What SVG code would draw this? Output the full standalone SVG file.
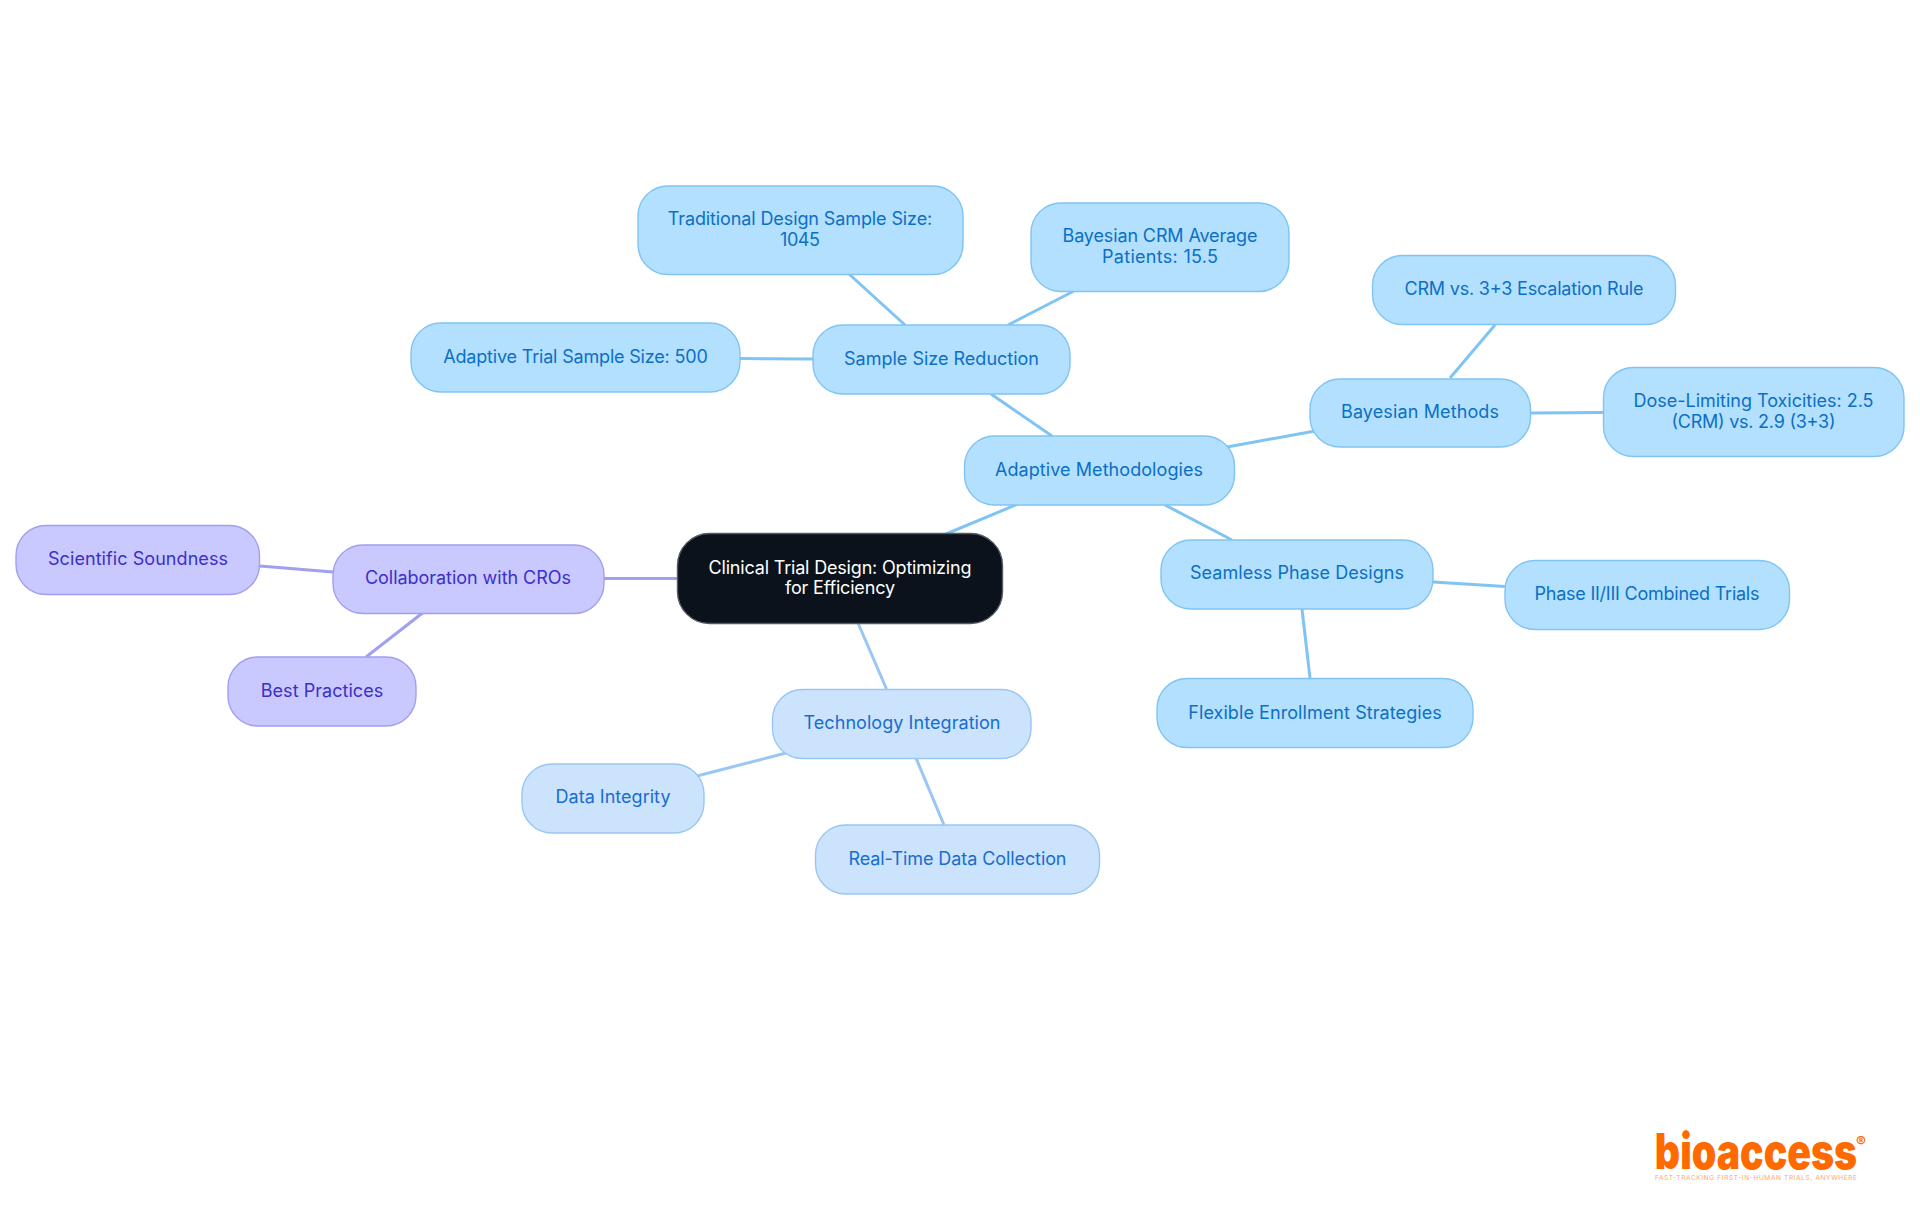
<svg xmlns="http://www.w3.org/2000/svg" width="1920" height="1215" viewBox="0 0 1920 1215">
<style>
text{font-family:Inter,"Noto Sans",sans-serif;font-size:18px;text-anchor:middle}
.n rect{stroke-width:1.4}
.a rect{fill:#b3e0fe;stroke:#7fc4f3}.a text{fill:#0b6fc6}
.t rect{fill:#cce3fd;stroke:#9ac6f4}.t text{fill:#176dd0}
.c rect{fill:#c9c9ff;stroke:#a09ff2}.c text{fill:#3c2fca}
#connectors line{stroke-width:3;fill:none}
.ca{stroke:#7fc4f3}.ct{stroke:#9ac6f4}.cc{stroke:#a09ff2}
</style>
<rect width="1920" height="1215" fill="#fff"/>
<g id="connectors">
<line class="ca" x1="946" y1="534" x2="1018" y2="504"/>
<line class="ca" x1="1052" y1="436" x2="991" y2="394"/>
<line class="ca" x1="905" y1="325" x2="849" y2="274"/>
<line class="ca" x1="1008" y1="325" x2="1074" y2="291"/>
<line class="ca" x1="813" y1="359" x2="740" y2="358.500"/>
<line class="ca" x1="1227" y1="447" x2="1315" y2="431"/>
<line class="ca" x1="1450" y1="378" x2="1495" y2="325"/>
<line class="ca" x1="1531" y1="413" x2="1603" y2="412.500"/>
<line class="ca" x1="1165" y1="505" x2="1232" y2="540"/>
<line class="ca" x1="1433" y1="582" x2="1505" y2="586.500"/>
<line class="ca" x1="1302" y1="609" x2="1310" y2="678"/>
<line class="ct" x1="858" y1="623" x2="886.500" y2="689"/>
<line class="ct" x1="786" y1="753" x2="697" y2="776"/>
<line class="ct" x1="916" y1="758" x2="944" y2="825"/>
<line class="cc" x1="677" y1="578.500" x2="604" y2="578.500"/>
<line class="cc" x1="333" y1="572" x2="260" y2="566"/>
<line class="cc" x1="422.500" y1="613" x2="366" y2="657"/>
</g>
<g id="root"><rect x="677.500" y="533.500" width="325" height="90" rx="32" fill="#0b121b" stroke="#555b62" stroke-width="1.400"/><text fill="#fff" x="840" y="574" textLength="263">Clinical Trial Design: Optimizing</text><text fill="#fff" x="840" y="594" textLength="110">for Efficiency</text></g>
<g id="adaptive" class="n a"><rect x="964.500" y="436" width="270" height="69" rx="30"/><text x="1099" y="476" textLength="208">Adaptive Methodologies</text></g>
<g id="sample" class="n a"><rect x="813" y="325" width="257" height="69" rx="30"/><text x="941.500" y="365" textLength="195">Sample Size Reduction</text></g>
<g id="traditional" class="n a"><rect x="638" y="186" width="325" height="88.500" rx="30"/><text x="800" y="225" textLength="264.500">Traditional Design Sample Size:</text><text x="800" y="246" textLength="40">1045</text></g>
<g id="bayescrm" class="n a"><rect x="1031" y="203" width="258" height="88.500" rx="30"/><text x="1160" y="242" textLength="195">Bayesian CRM Average</text><text x="1160" y="263" textLength="116">Patients: 15.5</text></g>
<g id="trial" class="n a"><rect x="411" y="323" width="329" height="69" rx="30"/><text x="575.500" y="363" textLength="264.500">Adaptive Trial Sample Size: 500</text></g>
<g id="bayesian" class="n a"><rect x="1310" y="379" width="220.500" height="68" rx="30"/><text x="1420" y="418" textLength="158">Bayesian Methods</text></g>
<g id="crm" class="n a"><rect x="1372.500" y="255.500" width="303" height="69" rx="30"/><text x="1524" y="295" textLength="239">CRM vs. 3+3 Escalation Rule</text></g>
<g id="dose" class="n a"><rect x="1603.500" y="367.500" width="300.500" height="89" rx="30"/><text x="1753.500" y="407" textLength="240">Dose-Limiting Toxicities: 2.5</text><text x="1753.500" y="428" textLength="164">(CRM) vs. 2.9 (3+3)</text></g>
<g id="seamless" class="n a"><rect x="1161" y="540" width="272" height="69" rx="30"/><text x="1297" y="579" textLength="214">Seamless Phase Designs</text></g>
<g id="phase" class="n a"><rect x="1505" y="560.500" width="284.500" height="69" rx="30"/><text x="1647" y="600" textLength="225">Phase II/III Combined Trials</text></g>
<g id="flexible" class="n a"><rect x="1157" y="678.500" width="316" height="69" rx="30"/><text x="1315" y="719" textLength="253.500">Flexible Enrollment Strategies</text></g>
<g id="tech" class="n t"><rect x="772.500" y="689.500" width="258.500" height="69" rx="30"/><text x="902" y="729" textLength="197">Technology Integration</text></g>
<g id="integrity" class="n t"><rect x="522" y="764" width="182" height="69" rx="30"/><text x="613" y="803" textLength="115">Data Integrity</text></g>
<g id="realtime" class="n t"><rect x="815.500" y="825" width="284" height="69" rx="30"/><text x="957.500" y="865" textLength="218">Real-Time Data Collection</text></g>
<g id="collab" class="n c"><rect x="333" y="545" width="271" height="68.500" rx="30"/><text x="468" y="584" textLength="206">Collaboration with CROs</text></g>
<g id="scientific" class="n c"><rect x="16" y="525.500" width="243.500" height="69" rx="30"/><text x="138" y="565" textLength="180">Scientific Soundness</text></g>
<g id="best" class="n c"><rect x="228" y="657" width="188" height="69" rx="30"/><text x="322" y="697" textLength="122.500">Best Practices</text></g>
<g id="logo"><text transform="translate(1756 1169) scale(.8 1)" style="font-weight:900;font-size:49px" fill="#ff6a00">bioaccess</text><text x="1861" y="1147" style="font-size:15px;font-weight:700" fill="#ff6a00">®</text><text x="1756" y="1180" style="font-size:6.500px" fill="#ffa866" textLength="202">FAST-TRACKING FIRST-IN-HUMAN TRIALS, ANYWHERE</text></g>
</svg>
